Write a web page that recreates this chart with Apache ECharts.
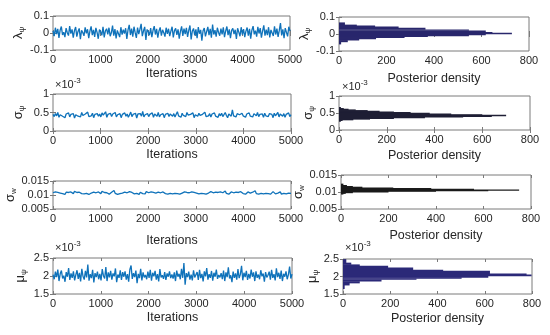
<!DOCTYPE html>
<html><head><meta charset="utf-8">
<script src="https://cdn.jsdelivr.net/npm/echarts@6/dist/echarts.min.js"></script>
<style>html,body{margin:0;padding:0;background:#fff}#c{width:550px;height:335px}</style>
</head><body><div id="c"></div>
<script>
// ---- trace values (λψ actual; σψ and μψ in units of 1e-3; σw actual) ----
const lambdaTrace = [
0.012,-0.018,0.031,-0.006,0.024,-0.029,0.017,0.038,-0.011,0.005,-0.024,0.029,0.002,-0.015,0.041,-0.004,0.021,-0.027,0.014,0.035,
-0.021,0.009,0.027,-0.036,0.016,0.003,-0.017,0.033,-0.002,0.022,-0.03,0.011,0.039,-0.012,0.018,-0.023,0.03,0.004,-0.034,0.02,
0.008,-0.014,0.036,-0.026,0.013,0.025,-0.008,0.031,-0.019,0.001,0.043,-0.016,0.023,-0.032,0.015,0.006,-0.024,0.034,-0.01,0.019,
-0.003,0.028,-0.035,0.018,0.048,-0.012,0.026,-0.022,0.037,0.002,-0.029,0.032,-0.006,0.022,0.054,-0.019,0.013,0.036,-0.041,0.021,
0.007,-0.013,0.029,-0.024,0.016,0.04,-0.009,0.024,-0.028,0.012,0.033,-0.015,0.019,0.002,-0.021,0.031,-0.005,0.025,-0.018,0.011,
0.037,-0.026,0.014,0.028,-0.011,0.022,-0.033,0.009,0.039,-0.017,0.026,-0.007,0.03,-0.023,0.016,0.044,-0.038,0.012,0.027,-0.014,
0.021,-0.031,0.035,-0.004,0.018,-0.045,0.013,0.029,-0.02,0.008,0.036,-0.012,0.024,-0.027,0.05,-0.009,0.017,-0.022,0.031,0.003,
-0.016,0.026,-0.008,0.033,-0.025,0.012,0.038,-0.013,0.021,-0.03,0.015,0.027,-0.006,0.019,-0.035,0.028,0.005,-0.019,0.034,-0.01,
0.023,-0.024,0.011,0.032,-0.015,0.025,-0.033,0.017,0.04,-0.008,0.014,-0.021,0.036,-0.003,0.029,-0.028,0.013,0.045,-0.016,0.02,
-0.012,0.034,-0.026,0.018,0.007,-0.017,0.039,-0.009,0.026,-0.023,0.015,0.058,-0.014,0.022,-0.031,0.029,0.004,-0.02,0.037,0.012];
const sigmaPsiTrace = [
0.45,0.39,0.47,0.41,0.5,0.37,0.44,0.48,0.4,0.43,0.36,0.46,0.42,0.49,0.38,0.45,0.41,0.47,0.35,0.44,
0.48,0.4,0.45,0.38,0.5,0.42,0.37,0.46,0.43,0.51,0.39,0.44,0.41,0.48,0.36,0.45,0.42,0.47,0.4,0.46,
0.38,0.49,0.43,0.4,0.52,0.37,0.45,0.41,0.48,0.39,0.46,0.43,0.5,0.38,0.44,0.41,0.47,0.36,0.45,0.42,
0.49,0.4,0.46,0.37,0.44,0.51,0.39,0.45,0.42,0.48,0.35,0.46,0.41,0.47,0.4,0.53,0.38,0.44,0.42,0.47,
0.39,0.45,0.41,0.49,0.37,0.46,0.43,0.4,0.5,0.38,0.44,0.42,0.47,0.36,0.45,0.41,0.48,0.39,0.46,0.43,
0.4,0.47,0.38,0.45,0.52,0.41,0.44,0.37,0.48,0.42,0.46,0.39,0.5,0.43,0.38,0.45,0.41,0.49,0.36,0.44,
0.46,0.4,0.48,0.42,0.37,0.45,0.43,0.51,0.39,0.44,0.41,0.47,0.38,0.46,0.42,0.49,0.4,0.45,0.37,0.47,
0.41,0.48,0.39,0.44,0.5,0.42,0.36,0.46,0.43,0.4,0.57,0.41,0.45,0.38,0.47,0.42,0.44,0.39,0.48,0.41,
0.45,0.37,0.46,0.42,0.49,0.4,0.44,0.38,0.47,0.43,0.41,0.5,0.39,0.45,0.42,0.46,0.37,0.48,0.41,0.44,
0.39,0.47,0.42,0.45,0.36,0.48,0.41,0.44,0.5,0.38,0.46,0.42,0.4,0.47,0.37,0.45,0.43,0.49,0.39,0.44];
const sigmaWTrace = [
0.0108,0.0104,0.0111,0.0106,0.0109,0.0103,0.0107,0.0112,0.0105,0.0108,0.0102,0.011,0.0106,0.0109,0.0104,0.0111,0.0107,0.0105,0.0113,0.0106,
0.0109,0.0103,0.011,0.0107,0.0105,0.0112,0.0104,0.0108,0.0106,0.0111,0.0102,0.0109,0.0107,0.0104,0.011,0.0106,0.0108,0.0103,0.0111,0.0107,
0.0105,0.0113,0.0106,0.0109,0.0104,0.0108,0.0111,0.0103,0.0107,0.011,0.0105,0.0116,0.0106,0.0109,0.0102,0.0108,0.0105,0.0111,0.0107,0.0104,
0.011,0.0106,0.0108,0.0103,0.0112,0.0105,0.0109,0.0107,0.0104,0.0111,0.0106,0.0108,0.0102,0.011,0.0107,0.0105,0.0109,0.0104,0.0112,0.0106,
0.0108,0.0103,0.0111,0.0106,0.0109,0.0105,0.0107,0.0101,0.011,0.0106,0.0108,0.0104,0.0111,0.0107,0.0105,0.0109,0.0103,0.0108,0.0106,0.011,
0.0104,0.0109,0.0106,0.0112,0.0105,0.0108,0.0103,0.011,0.0107,0.0105,0.0111,0.0106,0.0109,0.0104,0.0108,0.0102,0.0111,0.0106,0.0109,0.0105,
0.0107,0.0111,0.0104,0.0108,0.0106,0.0113,0.0105,0.0109,0.0103,0.011,0.0107,0.0104,0.0112,0.0106,0.0108,0.0105,0.011,0.0103,0.0109,0.0106,
0.0111,0.0105,0.0108,0.0104,0.0114,0.0106,0.0109,0.0103,0.0107,0.0111,0.0105,0.0108,0.0102,0.011,0.0106,0.0109,0.0104,0.0112,0.0107,0.0105,
0.0109,0.0103,0.0108,0.0111,0.0105,0.0107,0.0104,0.011,0.0106,0.0115,0.0105,0.0108,0.0103,0.0109,0.0106,0.0111,0.0104,0.0108,0.0106,0.011,
0.0105,0.0109,0.0103,0.0108,0.0112,0.0106,0.0104,0.011,0.0107,0.0105,0.0111,0.0103,0.0109,0.0106,0.0108,0.0104,0.011,0.0107,0.0105,0.0106];
const muPsiTrace = [
2.04,1.91,2.12,1.97,2.18,1.86,2.06,2.15,1.93,2.01,1.84,2.11,1.98,2.22,1.89,2.07,1.95,2.13,1.88,2.03,
2.16,1.92,2.09,1.85,2.2,1.99,1.9,2.14,1.96,2.32,1.87,2.05,1.94,2.17,1.82,2.08,1.97,2.12,1.91,2.06,
1.88,2.19,2.01,1.93,2.25,1.86,2.1,1.96,2.14,1.9,2.07,1.99,2.21,1.83,2.04,1.95,2.16,1.89,2.11,1.98,
2.13,1.9,2.05,1.84,2.18,2.29,1.92,2.08,1.97,2.15,1.8,2.06,1.94,2.2,1.88,2.1,1.96,2.03,1.91,2.12,
1.95,2.17,1.87,2.09,1.99,2.14,1.9,2.05,1.85,2.19,1.96,2.02,1.92,2.11,1.89,2.07,1.98,2.13,1.94,2.04,
1.93,2.1,1.86,2.15,1.98,2.06,1.91,2.2,1.95,2.36,1.76,2.08,1.97,2.12,1.9,2.04,1.88,2.16,1.96,2.01,
2.11,1.89,2.17,1.94,2.06,1.85,2.13,1.99,2.22,1.9,2.05,1.95,2.14,1.87,2.09,1.98,2.18,1.92,2.03,1.96,
2.08,1.91,2.15,1.86,2.1,1.97,2.24,1.93,2.02,1.83,2.12,1.95,2.07,1.9,2.19,1.94,2.05,2.28,1.88,2.09,
1.97,2.14,1.89,2.06,1.93,2.18,1.98,2.1,1.86,2.13,1.95,2.04,1.91,2.16,1.99,2.07,1.84,2.11,1.96,2.02,
2.12,1.9,2.17,1.95,2.05,1.88,2.21,1.97,2.09,1.92,2.15,1.86,2.06,1.98,2.13,1.91,2.04,2.26,1.93,2.05];

// ---- histogram bins: lower edge, upper edge, posterior density ----
const lambdaBinLo = [-0.060,-0.047,-0.037,-0.0295,-0.022,-0.014,-0.010,-0.0067,0.001,0.006,0.010,0.020,0.026,0.035,0.043,0.049,0.054];
const lambdaBinHi = [-0.047,-0.037,-0.0295,-0.022,-0.014,-0.010,-0.0067,0.001,0.006,0.010,0.020,0.026,0.035,0.043,0.049,0.054,0.067];
const lambdaDensity = [9,37,85,156,276,374,547,618,728,646,618,547,364,251,152,75,25];

const sigmaPsiBinLo = [0.26,0.28,0.30,0.32,0.34,0.36,0.38,0.40,0.42,0.44,0.46,0.48,0.50,0.52,0.54,0.56,0.58,0.60,0.62,0.64];
const sigmaPsiBinHi = [0.28,0.30,0.32,0.34,0.36,0.38,0.40,0.42,0.44,0.46,0.48,0.50,0.52,0.54,0.56,0.58,0.60,0.62,0.64,0.67];
const sigmaPsiDensity = [8,15,60,130,230,360,520,640,700,600,470,380,300,230,170,120,70,40,20,8];

const sigmaWBinLo = [0.0094,0.0096,0.0098,0.0100,0.0102,0.0104,0.01055,0.0107,0.0109,0.0111,0.0113,0.0115,0.0117,0.0120];
const sigmaWBinHi = [0.0096,0.0098,0.0100,0.0102,0.0104,0.01055,0.0107,0.0109,0.0111,0.0113,0.0115,0.0117,0.0120,0.0124];
const sigmaWDensity = [10,20,50,200,400,620,750,560,380,220,90,50,25,10];

const muPsiBinLo = [1.65,1.75,1.81,1.86,1.91,1.94,1.97,2.01,2.05,2.08,2.16,2.19,2.25,2.30,2.34,2.39];
const muPsiBinHi = [1.75,1.81,1.86,1.91,1.94,1.97,2.01,2.05,2.08,2.16,2.19,2.25,2.30,2.34,2.39,2.49];
const muPsiDensity = [7,28,71,163,311,502,615,798,777,622,424,297,191,71,35,14];

// ---- axis ticks ----
const iterationTicks = [0,1000,2000,3000,4000,5000];
const densityTicks = [0,200,400,600,800];
const lambdaTicks = [-0.1,0,0.1];
const sigmaPsiTicks = [0,0.5,1];
const sigmaWTicks = [0.005,0.01,0.015];
const muPsiTicks = [1.5,2,2.5];

// ---- layout ----
const FONT = "'Liberation Sans', Arial, Helvetica, sans-serif";
const TXT = '#262626', BOX = '#7a7a7a';
const rows = [
  {trace: lambdaTrace, lo: lambdaBinLo, hi: lambdaBinHi, dens: lambdaDensity, ticks: lambdaTicks,
   name: '{m|λ}{s|ψ}', histColor: '#29276c',
   L: {l:53,t:16,w:237,h:34, gap:24, xg:17}, R: {l:339,t:17,w:190,h:34, gap:22, xg:21}},
  {trace: sigmaPsiTrace, lo: sigmaPsiBinLo, hi: sigmaPsiBinHi, dens: sigmaPsiDensity, ticks: sigmaPsiTicks,
   name: '{m|σ}{s|ψ}', histColor: '#1f1f35',
   L: {l:53,t:94,w:238,h:37, gap:27, xg:17}, R: {l:339,t:96,w:191,h:34, gap:22, xg:19}},
  {trace: sigmaWTrace, lo: sigmaWBinLo, hi: sigmaWBinHi, dens: sigmaWDensity, ticks: sigmaWTicks,
   name: '{m|σ}{s|w}', histColor: '#1b1b1b',
   L: {l:53,t:181,w:238,h:28, gap:35, xg:25}, R: {l:341,t:175,w:190,h:34, gap:33, xg:20}},
  {trace: muPsiTrace, lo: muPsiBinLo, hi: muPsiBinHi, dens: muPsiDensity, ticks: muPsiTicks,
   name: '{m|μ}{s|ψ}', histColor: '#2b2978',
   L: {l:53,t:258,w:239,h:36, gap:25, xg:17}, R: {l:343,t:259,w:189,h:35, gap:21, xg:18}}
];

const nameRich = {
  m: {fontSize: 13, lineHeight: 14, verticalAlign: 'top', fontFamily: FONT, color: TXT},
  s: {fontSize: 8, lineHeight: 8, verticalAlign: 'bottom', padding: [8,0,0,0], fontFamily: FONT, color: TXT}
};
const plain = v => String(v);

const grid = [], xAxis = [], yAxis = [], series = [];
function addAxes(pos, xTicks, yTicks, yName, xName) {
  const gi = grid.length;
  grid.push({left: pos.l, top: pos.t, width: pos.w, height: pos.h, show: true,
             borderColor: BOX, borderWidth: 1, backgroundColor: '#fff'});
  const xmin = xTicks[0], xmax = xTicks[xTicks.length-1], xint = xTicks[1]-xTicks[0];
  const ymin = yTicks[0], ymax = yTicks[yTicks.length-1], yint = yTicks[1]-yTicks[0];
  const tick = {show: true, inside: true, length: 3, lineStyle: {color: BOX, width: 1}};
  xAxis.push({type: 'value', gridIndex: gi, min: xmin, max: xmax, interval: xint, position: 'bottom',
    axisLine: {show: false}, splitLine: {show: false}, axisTick: tick,
    axisLabel: {fontSize: 11, color: TXT, fontFamily: FONT, margin: 4, formatter: plain},
    name: xName, nameLocation: 'middle', nameGap: pos.xg,
    nameTextStyle: {fontSize: 12.5, color: TXT, fontFamily: FONT}});
  xAxis.push({type: 'value', gridIndex: gi, min: xmin, max: xmax, interval: xint, position: 'top',
    axisLine: {show: false}, splitLine: {show: false}, axisTick: tick, axisLabel: {show: false}});
  yAxis.push({type: 'value', gridIndex: gi, min: ymin, max: ymax, interval: yint, position: 'left',
    axisLine: {show: false}, splitLine: {show: false}, axisTick: tick,
    axisLabel: {fontSize: 11, color: TXT, fontFamily: FONT, margin: 4, formatter: plain},
    name: yName, nameLocation: 'middle', nameRotate: 90, nameGap: pos.gap,
    nameTextStyle: {rich: nameRich}});
  yAxis.push({type: 'value', gridIndex: gi, min: ymin, max: ymax, interval: yint, position: 'right',
    axisLine: {show: false}, splitLine: {show: false}, axisTick: tick, axisLabel: {show: false}});
  return {x: 2*gi, y: 2*gi};
}

rows.forEach(r => {
  // left: trace
  let ax = addAxes(r.L, iterationTicks, r.ticks, r.name, 'Iterations');
  const n = r.trace.length;
  const iter = r.trace.map((_, i) => i * 5000 / (n - 1));
  series.push({type: 'line', xAxisIndex: ax.x, yAxisIndex: ax.y, showSymbol: false, animation: false,
    data: r.trace.map((v, i) => [iter[i], v]), lineStyle: {color: '#0f72ba', width: 1.3}, clip: true, z: 3});
  // right: histogram
  ax = addAxes(r.R, densityTicks, r.ticks, r.name, 'Posterior density');
  const color = r.histColor;
  series.push({type: 'custom', xAxisIndex: ax.x, yAxisIndex: ax.y, animation: false, clip: true, z: 3,
    encode: {x: 2, y: [0, 1]},
    data: r.lo.map((lo, i) => [lo, r.hi[i], r.dens[i]]),
    renderItem: (params, api) => {
      const p0 = api.coord([0, api.value(1)]);
      const p1 = api.coord([api.value(2), api.value(0)]);
      const h = Math.max(p1[1] - p0[1], 1);
      return {type: 'rect', shape: {x: p0[0], y: p0[1] - 0.2, width: p1[0] - p0[0], height: h + 0.4},
              style: {fill: color}};
    }});
});

const expRich = {
  a: {fontSize: 11, lineHeight: 13, verticalAlign: 'bottom', fontFamily: FONT, color: TXT},
  b: {fontSize: 8, lineHeight: 8, verticalAlign: 'top', fontFamily: FONT, color: TXT}
};
function expLabel(left, top) {
  return {type: 'text', left: left, top: top, z: 10,
    style: {text: '{a|×10}{b|-3}', rich: expRich, fill: TXT}};
}

const chart = echarts.init(document.getElementById('c'), null, {renderer: 'canvas'});
chart.setOption({
  animation: false,
  backgroundColor: '#fff',
  grid, xAxis, yAxis, series,
  graphic: [expLabel(55, 77), expLabel(342, 79), expLabel(55, 240), expLabel(345, 240)]
});
</script>
</body></html>
